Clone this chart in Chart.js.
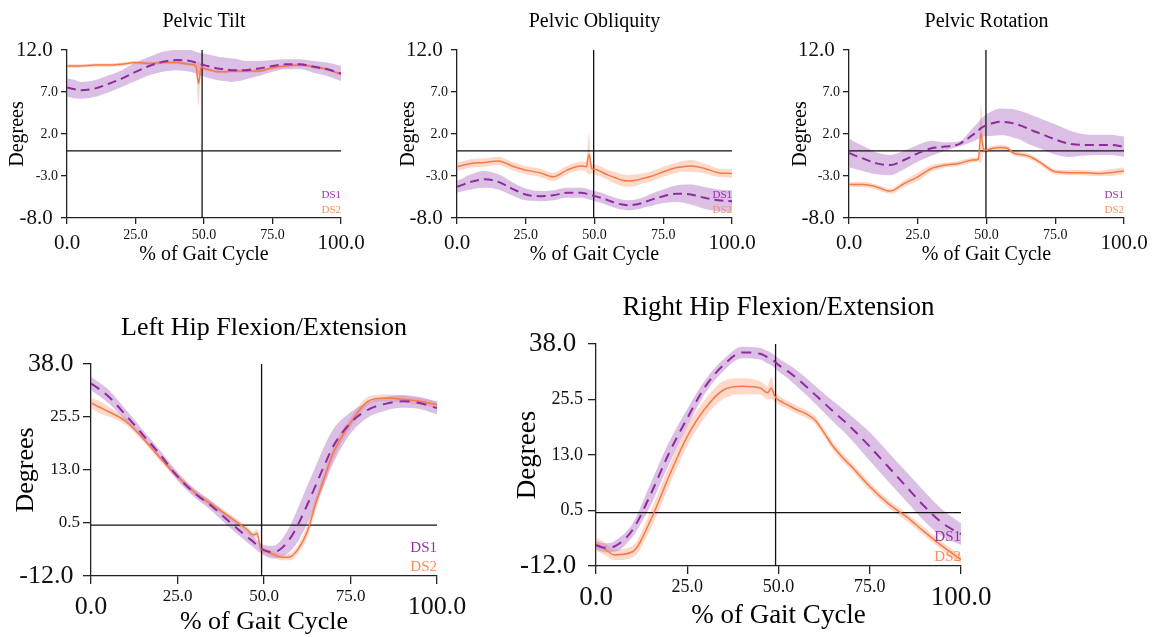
<!DOCTYPE html>
<html>
<head>
<meta charset="utf-8">
<title>Pelvis and Hip Kinematics</title>
<script src="https://cdn.jsdelivr.net/npm/chart.js"></script>
<style>
  html, body { margin: 0; padding: 0; background: #fff; overflow: hidden; }
  body { width: 1153px; height: 637px; position: relative; }
  canvas { position: absolute; }
</style>
</head>
<body>
<script>
const gait = [0, 2.5, 5, 10, 15, 20, 25, 30, 35, 40, 45, 47, 48, 49, 50, 52.5, 55, 57.5, 60, 62.5, 65, 67.5, 70, 75, 80, 85, 90, 95, 100];

const xTicks = [0, 25, 50, 75, 100];
const pelvisTicks = [-8, -3, 2, 7, 12];
const hipTicks = [-12, 0.5, 13, 25.5, 38];

const seriesNames = ["DS1", "DS2"];

// Pelvic Tilt
const tiltDs1 = [7.55, 7.35, 7.2, 7.4, 7.95, 8.6, 9.4, 10.1, 10.6, 10.8, 10.7, 10.5, 10.4, 10.3, 10.2, 10.0, 9.8, 9.7, 9.6, 9.6, 9.6, 9.7, 9.8, 10.1, 10.3, 10.3, 10.0, 9.7, 9.2];
const tiltDs1Sd = [1.1, 1.1, 1.0, 1.0, 1.0, 1.0, 1.1, 1.1, 1.2, 1.2, 1.3, 1.3, 1.3, 1.3, 1.35, 1.4, 1.4, 1.4, 1.4, 1.3, 1.1, 1.0, 0.9, 0.7, 0.6, 0.6, 0.7, 0.8, 0.9];
const tiltDs2 = [10.1, 10.1, 10.1, 10.2, 10.2, 10.3, 10.5, 10.4, 10.5, 10.5, 10.3, 10.1, 8.0, 10.0, 9.8, 9.6, 9.4, 9.4, 9.5, 9.5, 9.5, 9.5, 9.5, 9.9, 10.1, 10.2, 10.0, 9.7, 9.1];
const tiltDs2Sd = [0.2, 0.2, 0.2, 0.2, 0.2, 0.2, 0.2, 0.2, 0.2, 0.2, 0.2, 0.3, 2.6, 0.3, 0.2, 0.2, 0.2, 0.2, 0.2, 0.2, 0.2, 0.2, 0.2, 0.2, 0.2, 0.2, 0.2, 0.2, 0.2];

// Pelvic Obliquity
const oblDs1 = [-4.3, -4.0, -3.7, -3.4, -3.7, -4.5, -5.2, -5.4, -5.3, -5.0, -5.0, -5.1, -5.2, -5.3, -5.4, -5.6, -5.9, -6.2, -6.4, -6.5, -6.4, -6.2, -5.9, -5.4, -5.1, -5.2, -5.6, -5.9, -6.0];
const oblDs1Sd = [0.7, 0.8, 0.9, 1.0, 0.9, 0.8, 0.7, 0.6, 0.6, 0.6, 0.6, 0.6, 0.6, 0.6, 0.6, 0.6, 0.6, 0.6, 0.6, 0.6, 0.6, 0.6, 0.7, 0.8, 1.0, 1.2, 1.3, 1.3, 1.3];
const oblDs2 = [-1.9, -1.7, -1.5, -1.4, -1.2, -1.8, -2.3, -2.6, -3.1, -2.3, -1.8, -1.9, -0.4, -2.1, -2.2, -2.5, -2.9, -3.2, -3.5, -3.6, -3.5, -3.3, -3.1, -2.5, -2.0, -1.8, -2.1, -2.6, -2.7];
const oblDs2Sd = [0.5, 0.5, 0.5, 0.5, 0.5, 0.5, 0.5, 0.5, 0.5, 0.5, 0.5, 0.6, 2.4, 0.6, 0.6, 0.6, 0.6, 0.7, 0.7, 0.7, 0.7, 0.6, 0.6, 0.6, 0.6, 0.7, 0.6, 0.5, 0.5];

// Pelvic Rotation
const rotDs1 = [-0.25, -0.6, -0.9, -1.5, -1.7, -1.1, -0.3, 0.3, 0.5, 0.8, 1.9, 2.4, 2.7, 2.9, 3.05, 3.3, 3.45, 3.4, 3.25, 3.0, 2.65, 2.3, 2.0, 1.35, 0.85, 0.7, 0.7, 0.7, 0.5];
const rotDs1Sd = [1.7, 1.6, 1.5, 1.3, 1.2, 1.1, 1.0, 0.9, 0.5, 0.3, 0.8, 1.0, 1.1, 1.2, 1.3, 1.5, 1.6, 1.6, 1.7, 1.7, 1.8, 1.8, 1.8, 1.8, 1.6, 1.3, 1.2, 1.2, 1.2];
const rotDs2 = [-4.0, -4.0, -4.0, -4.3, -4.8, -3.9, -3.1, -2.1, -1.7, -1.5, -1.1, -1.0, 2.1, 0.1, 0.1, 0.3, 0.4, 0.3, -0.3, -0.45, -0.6, -1.0, -1.5, -2.5, -2.6, -2.6, -2.7, -2.6, -2.4];
const rotDs2Sd = [0.3, 0.3, 0.3, 0.3, 0.3, 0.4, 0.5, 0.4, 0.3, 0.3, 0.3, 0.3, 3.5, 0.3, 0.3, 0.3, 0.3, 0.3, 0.3, 0.3, 0.3, 0.3, 0.3, 0.3, 0.3, 0.3, 0.3, 0.4, 0.4];

// Left Hip Flexion/Extension
const lhipDs1 = [33.4, 32.0, 30.4, 26.0, 21.3, 16.6, 11.5, 7.5, 4.4, 0.8, -2.7, -4.0, -4.8, -5.4, -5.9, -6.4, -5.5, -3.2, 0.4, 4.8, 9.5, 14.2, 18.6, 24.1, 27.2, 28.6, 29.2, 28.8, 27.6];
const lhipDs1Sd = [1.6, 1.6, 1.6, 1.3, 1.1, 1.0, 1.0, 1.0, 1.1, 1.3, 1.3, 1.3, 1.2, 1.2, 1.2, 1.5, 2.0, 3.0, 4.0, 4.5, 4.5, 4.5, 4.0, 2.5, 1.8, 1.6, 1.5, 1.4, 1.5];
const lhipDs2 = [28.8, 27.8, 26.8, 24.5, 20.5, 15.8, 11.5, 7.7, 4.8, 2.0, -1.0, -2.3, -1.9, -5.5, -6.0, -6.8, -7.6, -7.5, -5.5, -1.5, 5.2, 11.3, 17.0, 24.1, 29.2, 30.0, 29.7, 29.2, 28.4];
const lhipDs2Sd = [1.2, 1.4, 1.2, 0.8, 0.7, 0.7, 0.7, 0.7, 0.7, 0.7, 0.7, 0.7, 1.0, 0.7, 0.7, 0.7, 0.7, 0.8, 1.0, 1.5, 1.5, 1.5, 1.5, 1.2, 1.0, 0.8, 0.8, 0.8, 0.8];

// Right Hip Flexion/Extension
const rhipDs1 = [-7.3, -7.9, -7.6, -3.9, 4.2, 13.4, 21.3, 28.5, 33.3, 36.1, 35.8, 35.0, 34.6, 34.0, 33.3, 31.9, 30.3, 28.5, 26.6, 24.7, 22.8, 21.0, 19.1, 14.9, 10.4, 5.9, 1.4, -2.4, -4.8];
const rhipDs1Sd = [1.0, 1.0, 1.2, 1.5, 2.5, 2.5, 2.0, 1.5, 1.3, 1.3, 1.3, 1.4, 1.4, 1.4, 1.5, 1.6, 1.8, 1.9, 2.0, 2.1, 2.3, 2.5, 2.7, 3.2, 3.3, 3.3, 3.3, 3.0, 2.4];
const rhipDs2 = [-7.0, -8.2, -9.5, -8.8, -1.6, 8.2, 17.2, 23.6, 27.7, 28.5, 28.1, 27.0, 28.1, 26.2, 25.4, 24.3, 23.2, 22.3, 20.9, 18.0, 14.9, 12.5, 10.4, 5.9, 2.1, -0.9, -4.3, -7.6, -10.6];
const rhipDs2Sd = [1.5, 1.4, 1.2, 1.3, 2.0, 2.2, 2.2, 2.0, 2.0, 1.8, 1.5, 1.5, 2.5, 1.2, 1.0, 0.9, 0.9, 0.9, 0.9, 0.9, 0.9, 0.9, 0.9, 0.9, 0.9, 0.9, 0.9, 0.9, 0.9];

// toe-off line (% of gait cycle), one per panel
const toeOff = [49.3, 49.7, 49.8, 49.3, 49.2];

const fontFamily = "'Liberation Serif', 'Times New Roman', serif";
const ds1Line = "#8e2c9e";
const ds1Band = "rgba(178, 112, 198, 0.45)";
const ds2Line = "#f47a48";
const ds2Band = "rgba(252, 158, 118, 0.40)";
const legendColors = ["#9a30a8", "#ff8c5c"];

// plot rectangles and text sizes for each panel (page pixels)
const panels = [
  { title: "Pelvic Tilt", ds1: tiltDs1, ds1Sd: tiltDs1Sd, ds2: tiltDs2, ds2Sd: tiltDs2Sd, yTicks: pelvisTicks,
    L: 67, T: 50, R: 341, B: 218, titleY: 22, yTitleX: 18, xTitleY: 255,
    titleSize: 20, axisSize: 20, bigTick: 21, smallTick: 14, tickLen: 6, yPad: 3, xPad: 3,
    legendSize: 11, legendDy: [23, 8], dash: [9, 5] },
  { title: "Pelvic Obliquity", ds1: oblDs1, ds1Sd: oblDs1Sd, ds2: oblDs2, ds2Sd: oblDs2Sd, yTicks: pelvisTicks,
    L: 457, T: 50, R: 732, B: 218, titleY: 22, yTitleX: 409, xTitleY: 255,
    titleSize: 20, axisSize: 20, bigTick: 21, smallTick: 14, tickLen: 6, yPad: 3, xPad: 3,
    legendSize: 11, legendDy: [23, 8], dash: [9, 5] },
  { title: "Pelvic Rotation", ds1: rotDs1, ds1Sd: rotDs1Sd, ds2: rotDs2, ds2Sd: rotDs2Sd, yTicks: pelvisTicks,
    L: 849, T: 50, R: 1124, B: 218, titleY: 22, yTitleX: 801, xTitleY: 255,
    titleSize: 20, axisSize: 20, bigTick: 21, smallTick: 14, tickLen: 6, yPad: 3, xPad: 3,
    legendSize: 11, legendDy: [23, 8], dash: [9, 5] },
  { title: "Left Hip Flexion/Extension", ds1: lhipDs1, ds1Sd: lhipDs1Sd, ds2: lhipDs2, ds2Sd: lhipDs2Sd, yTicks: hipTicks,
    L: 91, T: 364, R: 437, B: 576, titleY: 329, yTitleX: 27, xTitleY: 622,
    titleSize: 26, axisSize: 26, bigTick: 26, smallTick: 17, tickLen: 8, yPad: 3, xPad: 2,
    legendSize: 15, legendDy: [28, 9], dash: [10, 7] },
  { title: "Right Hip Flexion/Extension", ds1: rhipDs1, ds1Sd: rhipDs1Sd, ds2: rhipDs2, ds2Sd: rhipDs2Sd, yTicks: hipTicks,
    L: 596, T: 344, R: 961, B: 566, titleY: 308, yTitleX: 528, xTitleY: 616,
    titleSize: 27, axisSize: 27, bigTick: 27, smallTick: 18, tickLen: 8, yPad: 5, xPad: 2,
    legendSize: 15, legendDy: [29, 9], dash: [10, 7] },
];

// DS1 / DS2 labels in the lower right corner of each plot
const legendText = {
  id: "legendText",
  afterDatasetsDraw(chart, args, opts) {
    const { ctx, chartArea } = chart;
    ctx.save();
    ctx.font = opts.size + "px " + fontFamily;
    ctx.textAlign = "right";
    ctx.textBaseline = "middle";
    seriesNames.forEach((name, i) => {
      ctx.fillStyle = legendColors[i];
      ctx.fillText(name, chartArea.right, chartArea.bottom - opts.dy[i]);
    });
    ctx.restore();
  },
};

const curve = (vals) => gait.map((x, i) => ({ x, y: vals[i] }));
const band = (mean, sd, sign) => gait.map((x, i) => ({ x, y: mean[i] + sign * sd[i] }));

// end ticks are drawn larger, as in the original figure
function tickFont(big, small, count) {
  return (ctx) => {
    const isEnd = ctx.index === 0 || ctx.index === count - 1;
    return { family: fontFamily, size: isEnd ? big : small, lineHeight: isEnd ? 1.6 : 1.2 };
  };
}

panels.forEach((p, n) => {
  const titleLH = p.titleSize * 1.2;
  const axisLH = p.axisSize * 1.2;
  const left = Math.round(p.yTitleX - axisLH / 2);
  const top = Math.round(p.titleY - titleLH / 2 - 2);
  const right = p.R + 45;
  const bottom = Math.round(p.xTitleY + axisLH / 2);
  const yMin = p.yTicks[0];
  const yMax = p.yTicks[p.yTicks.length - 1];

  const canvas = document.createElement("canvas");
  canvas.width = right - left;
  canvas.height = bottom - top;
  canvas.style.left = left + "px";
  canvas.style.top = top + "px";
  canvas.style.width = right - left + "px";
  canvas.style.height = bottom - top + "px";
  document.body.appendChild(canvas);

  new Chart(canvas.getContext("2d"), {
    type: "line",
    data: {
      datasets: [
        { data: curve(p.ds1), borderColor: ds1Line, borderWidth: 2, borderDash: p.dash, fill: false, order: 0 },
        { data: curve(p.ds2), borderColor: ds2Line, borderWidth: 1.5, fill: false, order: 0 },
        { data: band(p.ds1, p.ds1Sd, 1), borderColor: "transparent", borderWidth: 0, backgroundColor: ds1Band, fill: "+1", order: 2 },
        { data: band(p.ds1, p.ds1Sd, -1), borderColor: "transparent", borderWidth: 0, fill: false, order: 2 },
        { data: band(p.ds2, p.ds2Sd, 1), borderColor: "transparent", borderWidth: 0, backgroundColor: ds2Band, fill: "+1", order: 2 },
        { data: band(p.ds2, p.ds2Sd, -1), borderColor: "transparent", borderWidth: 0, fill: false, order: 2 },
        { data: [{ x: 0, y: 0 }, { x: 100, y: 0 }], borderColor: "#111", borderWidth: 1.3, fill: false, order: 1 },
        { data: [{ x: toeOff[n], y: yMin }, { x: toeOff[n], y: yMax }], borderColor: "#111", borderWidth: 1.3, fill: false, order: 1 },
      ],
    },
    options: {
      responsive: false,
      animation: false,
      devicePixelRatio: 1,
      layout: { padding: { top: 0, left: 0, bottom: 0, right: 45 } },
      elements: {
        point: { radius: 0 },
        line: { cubicInterpolationMode: "monotone" },
      },
      plugins: {
        legend: { display: false },
        tooltip: { enabled: false },
        title: {
          display: true,
          text: p.title,
          fullSize: false,
          color: "#000",
          font: { family: fontFamily, size: p.titleSize, weight: "normal" },
          padding: { top: 2, bottom: p.T - top - 2 - titleLH },
        },
        legendText: { size: p.legendSize, dy: p.legendDy },
      },
      scales: {
        x: {
          type: "linear",
          min: 0,
          max: 100,
          afterBuildTicks: (s) => { s.ticks = xTicks.map((v) => ({ value: v })); },
          afterFit: (s) => { s.height = bottom - p.B; },
          ticks: {
            autoSkip: false,
            maxRotation: 0,
            color: "#111",
            padding: p.xPad,
            font: tickFont(p.bigTick, p.smallTick, xTicks.length),
            callback: (v) => Number(v).toFixed(1),
          },
          grid: { drawOnChartArea: false, color: "#222", tickLength: p.tickLen, lineWidth: 1.3 },
          border: { color: "#222", width: 1.3 },
          title: {
            display: true,
            text: "% of Gait Cycle",
            color: "#000",
            padding: 0,
            font: { family: fontFamily, size: p.axisSize },
          },
        },
        y: {
          type: "linear",
          min: yMin,
          max: yMax,
          afterBuildTicks: (s) => { s.ticks = p.yTicks.map((v) => ({ value: v })); },
          afterFit: (s) => { s.width = p.L - left; },
          ticks: {
            autoSkip: false,
            color: "#111",
            padding: p.yPad,
            font: tickFont(p.bigTick, p.smallTick, p.yTicks.length),
            // a trailing space pulls the large end labels a little away from the axis
            callback: (v, i, ticks) => {
              const s = Number(v).toFixed(1);
              return i === 0 || i === ticks.length - 1 ? s + " " : s;
            },
          },
          grid: { drawOnChartArea: false, color: "#222", tickLength: p.tickLen, lineWidth: 1.3 },
          border: { color: "#222", width: 1.3 },
          title: {
            display: true,
            text: "Degrees",
            color: "#000",
            padding: 0,
            font: { family: fontFamily, size: p.axisSize },
          },
        },
      },
    },
    plugins: [legendText],
  });
});
</script>
</body>
</html>
